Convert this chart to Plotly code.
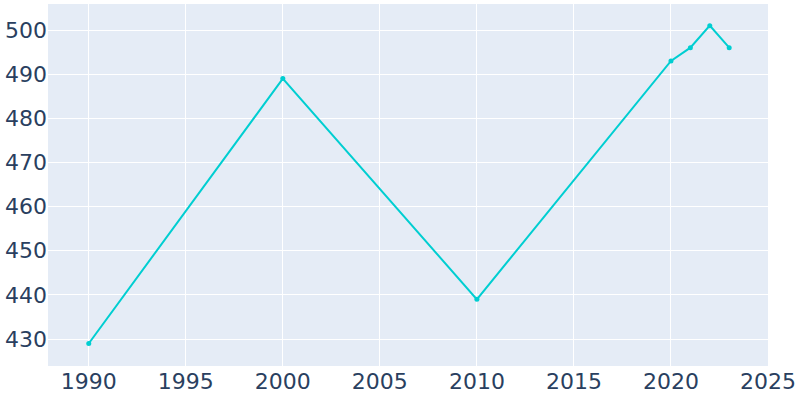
import plotly.graph_objects as go

years = [1990, 2000, 2010, 2020, 2021, 2022, 2023]
population = [429, 489, 439, 493, 496, 501, 496]

fig = go.Figure(go.Scatter(
    x=years, y=population, mode="lines+markers",
    line=dict(color="#00CED1", width=2),
    marker=dict(size=5, color="#00CED1"),
))
fig.update_layout(
    width=800, height=400,
    margin=dict(l=48, r=32, t=4, b=34),
    template="plotly",
    font=dict(family="DejaVu Sans", size=22, color="#2a3f5f"),
    showlegend=False,
)
fig.update_xaxes(range=[1987.9, 2025], dtick=5, tick0=1990, tickfont=dict(size=22))
fig.update_yaxes(range=[423.9, 505.9], dtick=10, tickfont=dict(size=22))
fig.write_html("out.html", config={"displayModeBar": False},
               post_script="document.body.style.margin='0';document.body.style.overflow='hidden';")
